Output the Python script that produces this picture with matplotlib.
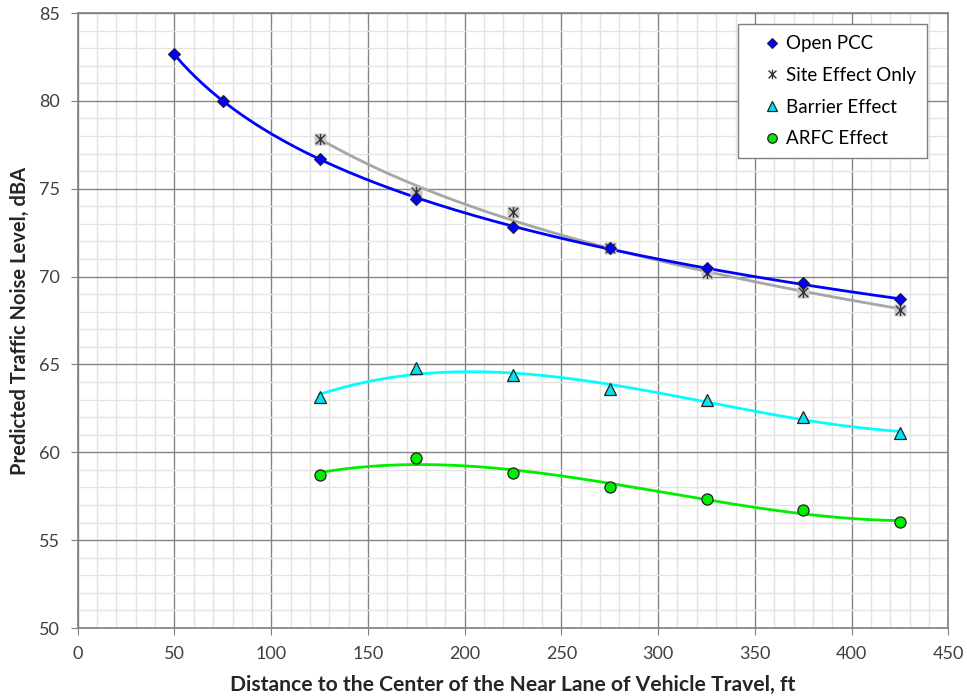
import numpy as np
import matplotlib
matplotlib.use("Agg")
import matplotlib.pyplot as plt
from matplotlib.path import Path
from matplotlib.ticker import MultipleLocator

plt.rcParams['font.family'] = ['Lato', 'DejaVu Sans']

# distances (ft) and predicted levels (dBA)
dist_pcc = [50, 75, 125, 175, 225, 275, 325, 375, 425]
open_pcc = [82.67, 80.0, 76.67, 74.4, 72.84, 71.6, 70.47, 69.62, 68.72]

dist = [125, 175, 225, 275, 325, 375, 425]
site_only = [77.85, 74.83, 73.69, 71.61, 70.22, 69.14, 68.1]
barrier = [63.16, 64.78, 64.4, 63.58, 62.97, 62.02, 61.1]
arfc = [58.71, 59.66, 58.84, 58.04, 57.32, 56.71, 56.01]

labels = ["Open PCC", "Site Effect Only", "Barrier Effect", "ARFC Effect"]


def log_fit(x, y):
    x = np.asarray(x, float)
    a, b = np.polyfit(np.log(x), y, 1)
    xs = np.linspace(x.min(), x.max(), 200)
    return xs, a * np.log(xs) + b


def poly_fit(x, y, order=3):
    x = np.asarray(x, float)
    c = np.polyfit(x, y, order)
    xs = np.linspace(x.min(), x.max(), 200)
    return xs, np.polyval(c, xs)


# excel style "star" marker: an X with a vertical bar
star = Path([(-1, -1), (1, 1), (-1, 1), (1, -1), (0, -1.2), (0, 1.2)],
            [Path.MOVETO, Path.LINETO, Path.MOVETO, Path.LINETO, Path.MOVETO, Path.LINETO])

fig = plt.figure(figsize=(9.67, 6.96), dpi=100)
ax = fig.add_axes([0.0804, 0.0977, 0.9003, 0.8836])

ax.set_xlim(0, 450)
ax.set_ylim(50, 85)
ax.xaxis.set_major_locator(MultipleLocator(50))
ax.xaxis.set_minor_locator(MultipleLocator(10))
ax.yaxis.set_major_locator(MultipleLocator(5))
ax.yaxis.set_minor_locator(MultipleLocator(1))
ax.grid(which='minor', color='#e3e3e3', linewidth=1.0, zorder=0)
ax.grid(which='major', color='#858585', linewidth=1.0, zorder=0)
ax.set_axisbelow(True)
for s in ax.spines.values():
    s.set_color('#7f7f7f')
    s.set_linewidth(1.2)
ax.tick_params(which='major', length=5, color='#7f7f7f', labelsize=13,
               labelcolor='#404040', pad=8)
ax.tick_params(which='minor', length=0)

# trendlines
xs, ys = log_fit(dist_pcc, open_pcc)
ax.plot(xs, ys, color='#0000ff', lw=2.0, zorder=3)
xs, ys = log_fit(dist, site_only)
ax.plot(xs, ys, color='#a6a6a6', lw=2.0, zorder=2)
xs, ys = poly_fit(dist, barrier)
ax.plot(xs, ys, color='#00ffff', lw=2.0, zorder=2)
xs, ys = poly_fit(dist, arfc)
ax.plot(xs, ys, color='#00ee00', lw=2.0, zorder=2)

# data points
h1, = ax.plot(dist_pcc, open_pcc, 'D', ms=6.5, mfc='#0000ff', mec='#1a1a40', mew=0.8,
              ls='none', zorder=5, label=labels[0])
ax.plot(dist, site_only, 's', ms=8, mfc='#c8c8c8', mec='none', ls='none', zorder=4)
h2, = ax.plot(dist, site_only, marker=star, ms=8, mfc='none', mec='#333333', mew=1.0,
              ls='none', zorder=4, label=labels[1])
h3, = ax.plot(dist, barrier, '^', ms=8, mfc='#00e5ee', mec='#222222', mew=0.9,
              ls='none', zorder=4, label=labels[2])
h4, = ax.plot(dist, arfc, 'o', ms=8, mfc='#00ee00', mec='#222222', mew=0.9,
              ls='none', zorder=4, label=labels[3])

leg = ax.legend(handles=[h1, h2, h3, h4], loc='upper right',
                bbox_to_anchor=(0.9755, 0.982), borderaxespad=0, fancybox=False,
                framealpha=1, edgecolor='#7f7f7f', fontsize=13.5, handlelength=2.5,
                handletextpad=-0.54, labelspacing=0.78, borderpad=0.6, markerscale=0.85)
leg.get_frame().set_linewidth(1.0)
leg.set_zorder(10)

ax.set_xlabel("Distance to the Center of the Near Lane of Vehicle Travel, ft",
              fontsize=15.2, fontweight='bold', color='#262626', labelpad=9)
ax.set_ylabel("Predicted Traffic Noise Level, dBA",
              fontsize=14.5, fontweight='bold', color='#262626', labelpad=6)

fig.savefig("out.png", dpi=100)
